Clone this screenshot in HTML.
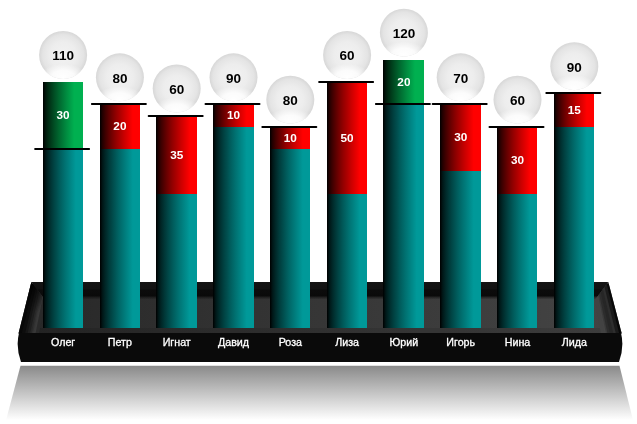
<!DOCTYPE html>
<html><head><meta charset="utf-8">
<style>
html,body{margin:0;padding:0;background:#fff;}
body{width:637px;height:424px;overflow:hidden;}
svg{display:block;will-change:transform;}
text{font-family:"Liberation Sans",sans-serif;}
</style></head><body>
<svg width="637" height="424" viewBox="0 0 637 424">
<defs>
<linearGradient id="gT" x1="0" y1="0" x2="1" y2="0">
<stop offset="0.000" stop-color="#000000"/><stop offset="0.068" stop-color="#001818"/><stop offset="0.137" stop-color="#002828"/><stop offset="0.205" stop-color="#003636"/><stop offset="0.273" stop-color="#004343"/><stop offset="0.342" stop-color="#004f4f"/><stop offset="0.410" stop-color="#005b5b"/><stop offset="0.478" stop-color="#006666"/><stop offset="0.547" stop-color="#007171"/><stop offset="0.615" stop-color="#007b7b"/><stop offset="0.683" stop-color="#008585"/><stop offset="0.752" stop-color="#008f8f"/><stop offset="0.820" stop-color="#009999"/><stop offset="1" stop-color="#009999"/></linearGradient>
<linearGradient id="gR" x1="0" y1="0" x2="1" y2="0">
<stop offset="0.000" stop-color="#000000"/><stop offset="0.068" stop-color="#250000"/><stop offset="0.137" stop-color="#3f0000"/><stop offset="0.205" stop-color="#560000"/><stop offset="0.273" stop-color="#6c0000"/><stop offset="0.342" stop-color="#810000"/><stop offset="0.410" stop-color="#950000"/><stop offset="0.478" stop-color="#a70000"/><stop offset="0.547" stop-color="#ba0000"/><stop offset="0.615" stop-color="#cc0000"/><stop offset="0.683" stop-color="#dd0000"/><stop offset="0.752" stop-color="#ee0000"/><stop offset="0.820" stop-color="#ff0000"/><stop offset="1" stop-color="#ff0000"/></linearGradient>
<linearGradient id="gG" x1="0" y1="0" x2="1" y2="0">
<stop offset="0.000" stop-color="#000000"/><stop offset="0.065" stop-color="#00180b"/><stop offset="0.130" stop-color="#002a13"/><stop offset="0.195" stop-color="#003a1a"/><stop offset="0.260" stop-color="#004921"/><stop offset="0.325" stop-color="#005728"/><stop offset="0.390" stop-color="#00652e"/><stop offset="0.455" stop-color="#007234"/><stop offset="0.520" stop-color="#007f3a"/><stop offset="0.585" stop-color="#008c40"/><stop offset="0.650" stop-color="#009845"/><stop offset="0.715" stop-color="#00a44b"/><stop offset="0.780" stop-color="#00b050"/><stop offset="1" stop-color="#00b050"/></linearGradient>
<radialGradient id="gB" cx="0.5" cy="0.5" r="0.5">
<stop offset="0" stop-color="#f2f2f2"/><stop offset="0.55" stop-color="#ededed"/><stop offset="0.85" stop-color="#e4e4e4"/><stop offset="1" stop-color="#d7d7d7"/></radialGradient>
<radialGradient id="gBw" cx="0.5" cy="0.96" r="0.5" gradientTransform="translate(0.5 0.96) scale(1 0.55) translate(-0.5 -0.96)">
<stop offset="0" stop-color="#fff" stop-opacity="1"/><stop offset="0.5" stop-color="#fff" stop-opacity="0.85"/><stop offset="1" stop-color="#fff" stop-opacity="0"/></radialGradient>
<linearGradient id="gRef" gradientUnits="userSpaceOnUse" x1="0" y1="366" x2="0" y2="420">
<stop offset="0" stop-color="#8a8a8a"/><stop offset="1" stop-color="#fff"/></linearGradient>
<linearGradient id="gWallL" x1="0" y1="0" x2="1" y2="0">
<stop offset="0" stop-color="#080808"/><stop offset="0.45" stop-color="#161616"/><stop offset="0.78" stop-color="#3a3a3a"/><stop offset="1" stop-color="#2e2e2e"/></linearGradient>
<linearGradient id="gWallR" x1="1" y1="0" x2="0" y2="0">
<stop offset="0" stop-color="#080808"/><stop offset="0.45" stop-color="#161616"/><stop offset="0.78" stop-color="#3a3a3a"/><stop offset="1" stop-color="#2e2e2e"/></linearGradient>
<linearGradient id="gBand" x1="0" y1="0" x2="0" y2="1">
<stop offset="0" stop-color="#141414"/><stop offset="0.45" stop-color="#121212"/><stop offset="0.55" stop-color="#0c0c0c"/><stop offset="1" stop-color="#0a0a0a"/></linearGradient>
<linearGradient id="gFloor" gradientUnits="userSpaceOnUse" x1="34" y1="0" x2="605" y2="0">
<stop offset="0" stop-color="#282828"/><stop offset="1" stop-color="#444444"/></linearGradient>
<linearGradient id="gWallTop" gradientUnits="userSpaceOnUse" x1="0" y1="284" x2="0" y2="312">
<stop offset="0" stop-color="#000" stop-opacity="0.6"/><stop offset="1" stop-color="#000" stop-opacity="0"/></linearGradient>
<linearGradient id="gFloorTop" x1="0" y1="0" x2="0" y2="1">
<stop offset="0" stop-color="#0a0a0a" stop-opacity="1"/><stop offset="0.3" stop-color="#0a0a0a" stop-opacity="0.6"/><stop offset="1" stop-color="#0a0a0a" stop-opacity="0"/></linearGradient>
</defs>

<polygon points="20.5,365.8 619.5,365.8 634,424 5,424" fill="url(#gRef)"/>
<polygon points="30.9,284 608.8,284 621.7,333.5 18.5,333.5" fill="url(#gFloor)"/>
<polygon points="31.4,282 608.3,282 597.5,296.5 42.5,296.5" fill="url(#gBand)"/>
<polygon points="38,296.5 601,296.5 612,333.5 26,333.5" fill="url(#gFloor)"/>
<rect x="26" y="328" width="586" height="5.5" fill="#000" opacity="0.1"/>
<rect x="36" y="295.5" width="567" height="4" fill="url(#gFloorTop)"/>
<polygon points="31.40,282.00 34.29,285.77 22.79,333.50 18.50,333.50" fill="#080808"/>
<polygon points="33.62,284.90 36.51,288.67 26.09,333.50 21.80,333.50" fill="#0d0d0d"/>
<polygon points="35.84,287.80 38.17,290.85 28.57,333.50 25.10,333.50" fill="#151515"/>
<polygon points="37.51,289.98 39.84,293.02 31.04,333.50 27.58,333.50" fill="#1e1e1e"/>
<polygon points="39.17,292.15 40.95,294.47 32.69,333.50 30.05,333.50" fill="#282828"/>
<polygon points="40.28,293.60 41.83,295.63 34.01,333.50 31.70,333.50" fill="#303030"/>
<polygon points="41.17,294.76 42.61,296.64 35.16,333.50 33.02,333.50" fill="#373737"/>
<polygon points="41.95,295.77 43.50,297.81 36.48,333.50 34.17,333.50" fill="#393939"/>
<polygon points="42.83,296.94 45.27,300.12 39.12,333.50 35.50,333.50" fill="#2a2a2a"/>
<polygon points="608.30,282.00 606.03,285.05 618.19,333.50 621.70,333.50" fill="#080808"/>
<polygon points="606.68,284.18 603.87,287.94 614.85,333.50 619.20,333.50" fill="#1a1a1a"/>
<polygon points="604.52,287.07 602.25,290.12 612.35,333.50 615.86,333.50" fill="#2e2e2e"/>
<polygon points="602.90,289.25 600.09,293.02 609.01,333.50 613.35,333.50" fill="#262626"/>
<polygon points="600.74,292.15 598.47,295.19 606.50,333.50 610.01,333.50" fill="#2c2c2c"/>
<polygon points="599.12,294.32 597.50,296.50 605.00,333.50 607.50,333.50" fill="#3a3a3a"/>
<polygon points="598.15,295.63 596.53,297.81 603.50,333.50 606.00,333.50" fill="#444444"/>
<polygon points="597.18,296.94 594.80,300.12 600.83,333.50 604.50,333.50" fill="#434343"/>
<polygon points="31.4,282 42.5,296.5 35,333.5 18.5,333.5" fill="url(#gWallTop)"/>
<path d="M19,333 L621,333 Q624.5,347 619,362 L21,362 Q15.5,347 19,333 Z" fill="#0a0a0a"/>
<rect x="43" y="149" width="40" height="179" fill="url(#gT)"/>
<rect x="43" y="82" width="40" height="67" fill="url(#gG)"/>
<line x1="35.10" y1="149" x2="89.10" y2="149" stroke="#000" stroke-width="2" stroke-linecap="round"/>
<text transform="translate(63.10 119.10) scale(1.12 1)" fill="#fff" font-size="10.5" font-weight="bold" text-anchor="middle">30</text>
<circle cx="63.10" cy="55.04" r="24" fill="url(#gB)"/>
<circle cx="63.10" cy="55.04" r="24" fill="url(#gBw)"/>
<text transform="translate(63.10 60.34) scale(1.1 1)" fill="#000" font-size="12.3" font-weight="bold" text-anchor="middle">110</text>
<text transform="translate(63.10 345.7) scale(1.07 1)" fill="#fff" stroke="#fff" stroke-width="0.3" font-size="10" text-anchor="middle">Олег</text>
<rect x="100" y="149" width="40" height="179" fill="url(#gT)"/>
<rect x="100" y="104" width="40" height="45" fill="url(#gR)"/>
<line x1="91.90" y1="104" x2="145.90" y2="104" stroke="#000" stroke-width="2" stroke-linecap="round"/>
<text transform="translate(119.90 130.10) scale(1.12 1)" fill="#fff" font-size="10.5" font-weight="bold" text-anchor="middle">20</text>
<circle cx="119.90" cy="77.37" r="24" fill="url(#gB)"/>
<circle cx="119.90" cy="77.37" r="24" fill="url(#gBw)"/>
<text transform="translate(119.90 82.67) scale(1.1 1)" fill="#000" font-size="12.3" font-weight="bold" text-anchor="middle">80</text>
<text transform="translate(119.90 345.7) scale(1.07 1)" fill="#fff" stroke="#fff" stroke-width="0.3" font-size="10" text-anchor="middle">Петр</text>
<rect x="156" y="194" width="41" height="134" fill="url(#gT)"/>
<rect x="156" y="116" width="41" height="78" fill="url(#gR)"/>
<line x1="148.70" y1="116" x2="202.70" y2="116" stroke="#000" stroke-width="2" stroke-linecap="round"/>
<text transform="translate(176.70 158.60) scale(1.12 1)" fill="#fff" font-size="10.5" font-weight="bold" text-anchor="middle">35</text>
<circle cx="176.70" cy="88.54" r="24" fill="url(#gB)"/>
<circle cx="176.70" cy="88.54" r="24" fill="url(#gBw)"/>
<text transform="translate(176.70 93.84) scale(1.1 1)" fill="#000" font-size="12.3" font-weight="bold" text-anchor="middle">60</text>
<text transform="translate(176.70 345.7) scale(1.07 1)" fill="#fff" stroke="#fff" stroke-width="0.3" font-size="10" text-anchor="middle">Игнат</text>
<rect x="213" y="127" width="41" height="201" fill="url(#gT)"/>
<rect x="213" y="104" width="41" height="23" fill="url(#gR)"/>
<line x1="205.50" y1="104" x2="259.50" y2="104" stroke="#000" stroke-width="2" stroke-linecap="round"/>
<text transform="translate(233.50 119.10) scale(1.12 1)" fill="#fff" font-size="10.5" font-weight="bold" text-anchor="middle">10</text>
<circle cx="233.50" cy="77.37" r="24" fill="url(#gB)"/>
<circle cx="233.50" cy="77.37" r="24" fill="url(#gBw)"/>
<text transform="translate(233.50 82.67) scale(1.1 1)" fill="#000" font-size="12.3" font-weight="bold" text-anchor="middle">90</text>
<text transform="translate(233.50 345.7) scale(1.07 1)" fill="#fff" stroke="#fff" stroke-width="0.3" font-size="10" text-anchor="middle">Давид</text>
<rect x="270" y="149" width="40" height="179" fill="url(#gT)"/>
<rect x="270" y="127" width="40" height="22" fill="url(#gR)"/>
<line x1="262.30" y1="127" x2="316.30" y2="127" stroke="#000" stroke-width="2" stroke-linecap="round"/>
<text transform="translate(290.30 141.60) scale(1.12 1)" fill="#fff" font-size="10.5" font-weight="bold" text-anchor="middle">10</text>
<circle cx="290.30" cy="99.70" r="24" fill="url(#gB)"/>
<circle cx="290.30" cy="99.70" r="24" fill="url(#gBw)"/>
<text transform="translate(290.30 105.00) scale(1.1 1)" fill="#000" font-size="12.3" font-weight="bold" text-anchor="middle">80</text>
<text transform="translate(290.30 345.7) scale(1.07 1)" fill="#fff" stroke="#fff" stroke-width="0.3" font-size="10" text-anchor="middle">Роза</text>
<rect x="327" y="194" width="40" height="134" fill="url(#gT)"/>
<rect x="327" y="82" width="40" height="112" fill="url(#gR)"/>
<line x1="319.10" y1="82" x2="373.10" y2="82" stroke="#000" stroke-width="2" stroke-linecap="round"/>
<text transform="translate(347.10 141.60) scale(1.12 1)" fill="#fff" font-size="10.5" font-weight="bold" text-anchor="middle">50</text>
<circle cx="347.10" cy="55.04" r="24" fill="url(#gB)"/>
<circle cx="347.10" cy="55.04" r="24" fill="url(#gBw)"/>
<text transform="translate(347.10 60.34) scale(1.1 1)" fill="#000" font-size="12.3" font-weight="bold" text-anchor="middle">60</text>
<text transform="translate(347.10 345.7) scale(1.07 1)" fill="#fff" stroke="#fff" stroke-width="0.3" font-size="10" text-anchor="middle">Лиза</text>
<rect x="383" y="104" width="41" height="224" fill="url(#gT)"/>
<rect x="383" y="60" width="41" height="44" fill="url(#gG)"/>
<line x1="375.90" y1="104" x2="429.90" y2="104" stroke="#000" stroke-width="2" stroke-linecap="round"/>
<text transform="translate(403.90 85.60) scale(1.12 1)" fill="#fff" font-size="10.5" font-weight="bold" text-anchor="middle">20</text>
<circle cx="403.90" cy="32.70" r="24" fill="url(#gB)"/>
<circle cx="403.90" cy="32.70" r="24" fill="url(#gBw)"/>
<text transform="translate(403.90 38.00) scale(1.1 1)" fill="#000" font-size="12.3" font-weight="bold" text-anchor="middle">120</text>
<text transform="translate(403.90 345.7) scale(1.07 1)" fill="#fff" stroke="#fff" stroke-width="0.3" font-size="10" text-anchor="middle">Юрий</text>
<rect x="440" y="171" width="41" height="157" fill="url(#gT)"/>
<rect x="440" y="104" width="41" height="67" fill="url(#gR)"/>
<line x1="432.70" y1="104" x2="486.70" y2="104" stroke="#000" stroke-width="2" stroke-linecap="round"/>
<text transform="translate(460.70 141.10) scale(1.12 1)" fill="#fff" font-size="10.5" font-weight="bold" text-anchor="middle">30</text>
<circle cx="460.70" cy="77.37" r="24" fill="url(#gB)"/>
<circle cx="460.70" cy="77.37" r="24" fill="url(#gBw)"/>
<text transform="translate(460.70 82.67) scale(1.1 1)" fill="#000" font-size="12.3" font-weight="bold" text-anchor="middle">70</text>
<text transform="translate(460.70 345.7) scale(1.07 1)" fill="#fff" stroke="#fff" stroke-width="0.3" font-size="10" text-anchor="middle">Игорь</text>
<rect x="497" y="194" width="40" height="134" fill="url(#gT)"/>
<rect x="497" y="127" width="40" height="67" fill="url(#gR)"/>
<line x1="489.50" y1="127" x2="543.50" y2="127" stroke="#000" stroke-width="2" stroke-linecap="round"/>
<text transform="translate(517.50 164.10) scale(1.12 1)" fill="#fff" font-size="10.5" font-weight="bold" text-anchor="middle">30</text>
<circle cx="517.50" cy="99.70" r="24" fill="url(#gB)"/>
<circle cx="517.50" cy="99.70" r="24" fill="url(#gBw)"/>
<text transform="translate(517.50 105.00) scale(1.1 1)" fill="#000" font-size="12.3" font-weight="bold" text-anchor="middle">60</text>
<text transform="translate(517.50 345.7) scale(1.07 1)" fill="#fff" stroke="#fff" stroke-width="0.3" font-size="10" text-anchor="middle">Нина</text>
<rect x="554" y="127" width="40" height="201" fill="url(#gT)"/>
<rect x="554" y="93" width="40" height="34" fill="url(#gR)"/>
<line x1="546.30" y1="93" x2="600.30" y2="93" stroke="#000" stroke-width="2" stroke-linecap="round"/>
<text transform="translate(574.30 113.60) scale(1.12 1)" fill="#fff" font-size="10.5" font-weight="bold" text-anchor="middle">15</text>
<circle cx="574.30" cy="66.20" r="24" fill="url(#gB)"/>
<circle cx="574.30" cy="66.20" r="24" fill="url(#gBw)"/>
<text transform="translate(574.30 71.50) scale(1.1 1)" fill="#000" font-size="12.3" font-weight="bold" text-anchor="middle">90</text>
<text transform="translate(574.30 345.7) scale(1.07 1)" fill="#fff" stroke="#fff" stroke-width="0.3" font-size="10" text-anchor="middle">Лида</text>
</svg></body></html>
